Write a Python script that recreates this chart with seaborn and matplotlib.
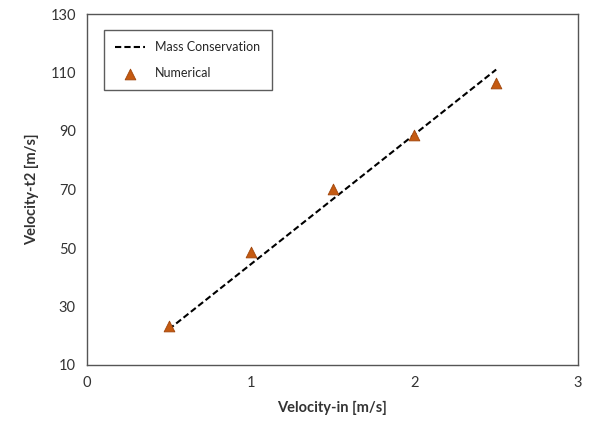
import matplotlib

matplotlib.use("Agg")

import matplotlib.pyplot as plt
import pandas as pd
import seaborn as sns

velocity_in = [0.5, 1.0, 1.5, 2.0, 2.5]
mass_conservation = [22.2, 44.4, 66.6, 88.8, 111.0]
numerical = [23.3, 48.7, 70.1, 88.8, 106.5]

df = pd.DataFrame({"vin": velocity_in, "mass": mass_conservation, "num": numerical})

sns.set_theme(style="white")
plt.rcParams["font.family"] = ["Lato", "DejaVu Sans"]

fig = plt.figure(figsize=(5.93, 4.21), dpi=100)
ax = fig.add_axes([87 / 593, 1 - 365 / 421, 491 / 593, 351 / 421])

sns.lineplot(data=df, x="vin", y="mass", ax=ax, color="black", linestyle=(0, (3, 1.5)),
             linewidth=1.5, label="Mass Conservation")
sns.scatterplot(data=df, x="vin", y="num", ax=ax, marker="^", s=60, color="#C55A11",
                edgecolor="#A0460C", linewidth=0.6, label="Numerical", zorder=3)

ax.set_xlim(0, 3)
ax.set_ylim(10, 130)
ax.set_xticks([0, 1, 2, 3])
ax.set_yticks(range(10, 131, 20))
ax.tick_params(length=0, labelsize=10.5, colors="#333333", pad=8)
for side in ax.spines.values():
    side.set_color("#555555")
    side.set_linewidth(1.0)
ax.set_xlabel("Velocity-in [m/s]", fontsize=10.5, fontweight="bold", color="#333333", labelpad=8)
ax.set_ylabel("Velocity-t2 [m/s]", fontsize=10.5, fontweight="bold", color="#333333", labelpad=8)

leg = ax.legend(loc="upper left", bbox_to_anchor=(17 / 491, 335 / 351), borderaxespad=0,
                fontsize=9, frameon=True, fancybox=False, edgecolor="#333333",
                borderpad=0.9, labelspacing=1.1, handlelength=2.4)
leg.get_frame().set_linewidth(1.0)

fig.savefig("out.png", dpi=100, facecolor="white")
